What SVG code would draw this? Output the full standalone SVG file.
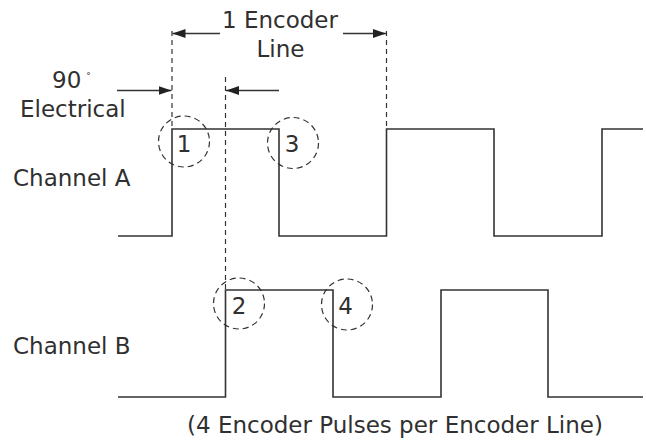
<svg xmlns="http://www.w3.org/2000/svg" width="646" height="440" viewBox="0 0 646 440">
<style>
text{font-family:"DejaVu Sans","Liberation Sans",sans-serif;font-size:23px;fill:#303030}
.wave{fill:none;stroke:#333;stroke-width:1.6}
.dash{fill:none;stroke:#333;stroke-width:1.2;stroke-dasharray:5 4}
.ring{fill:none;stroke:#333;stroke-width:1.2;stroke-dasharray:6 4}
.arr{fill:none;stroke:#333;stroke-width:1.5;marker-end:url(#ah)}
</style>
<defs>
<marker id="ah" markerUnits="userSpaceOnUse" markerWidth="14" markerHeight="10" refX="13" refY="5" orient="auto">
<path d="M0,0.5 L13,5 L0,9.5 Z" fill="#222"/>
</marker>
</defs>
<rect width="646" height="440" fill="#fff"/>
<g id="channelA">
<text x="13" y="186">Channel A</text>
<path class="wave" d="M118,236 H172 V129 H279 V236 H386.5 V129 H494 V236 H602 V129 H643"/>
</g>
<g id="channelB">
<text x="13" y="354">Channel B</text>
<path class="wave" d="M118,397 H225.5 V290 H333 V397 H441 V290 H548 V397 H643"/>
</g>
<g id="edge1">
<circle class="ring" cx="184" cy="141.5" r="25.5"/>
<text x="184" y="152" text-anchor="middle">1</text>
</g>
<g id="edge3">
<circle class="ring" cx="293" cy="143" r="25.5"/>
<text x="292" y="152" text-anchor="middle">3</text>
</g>
<g id="edge2">
<circle class="ring" cx="239" cy="303.5" r="25.5"/>
<text x="239" y="314" text-anchor="middle">2</text>
</g>
<g id="edge4">
<circle class="ring" cx="347" cy="304.5" r="25.5"/>
<text x="345.5" y="314" text-anchor="middle">4</text>
</g>
<g id="encoderLine">
<text x="222" y="28">1 Encoder</text>
<text x="280.5" y="57" text-anchor="middle">Line</text>
</g>
<g id="electrical">
<text x="52" y="88">90</text>
<text x="86" y="81" style="font-size:10px">˚</text>
<text x="20" y="117">Electrical</text>
</g>
<g id="caption">
<text x="187" y="433">(4 Encoder Pulses per Encoder Line)</text>
</g>
<g id="connectors">
<line class="dash" x1="172" y1="31" x2="172" y2="129"/>
<line class="dash" x1="386.5" y1="31" x2="386.5" y2="129"/>
<line class="dash" x1="225.5" y1="77" x2="225.5" y2="290"/>
<line class="arr" x1="220" y1="33.5" x2="172.5" y2="33.5"/>
<line class="arr" x1="343" y1="33.5" x2="386" y2="33.5"/>
<line class="arr" x1="117" y1="90.5" x2="171.5" y2="90.5"/>
<line class="arr" x1="279" y1="90.5" x2="226" y2="90.5"/>
</g>
</svg>
